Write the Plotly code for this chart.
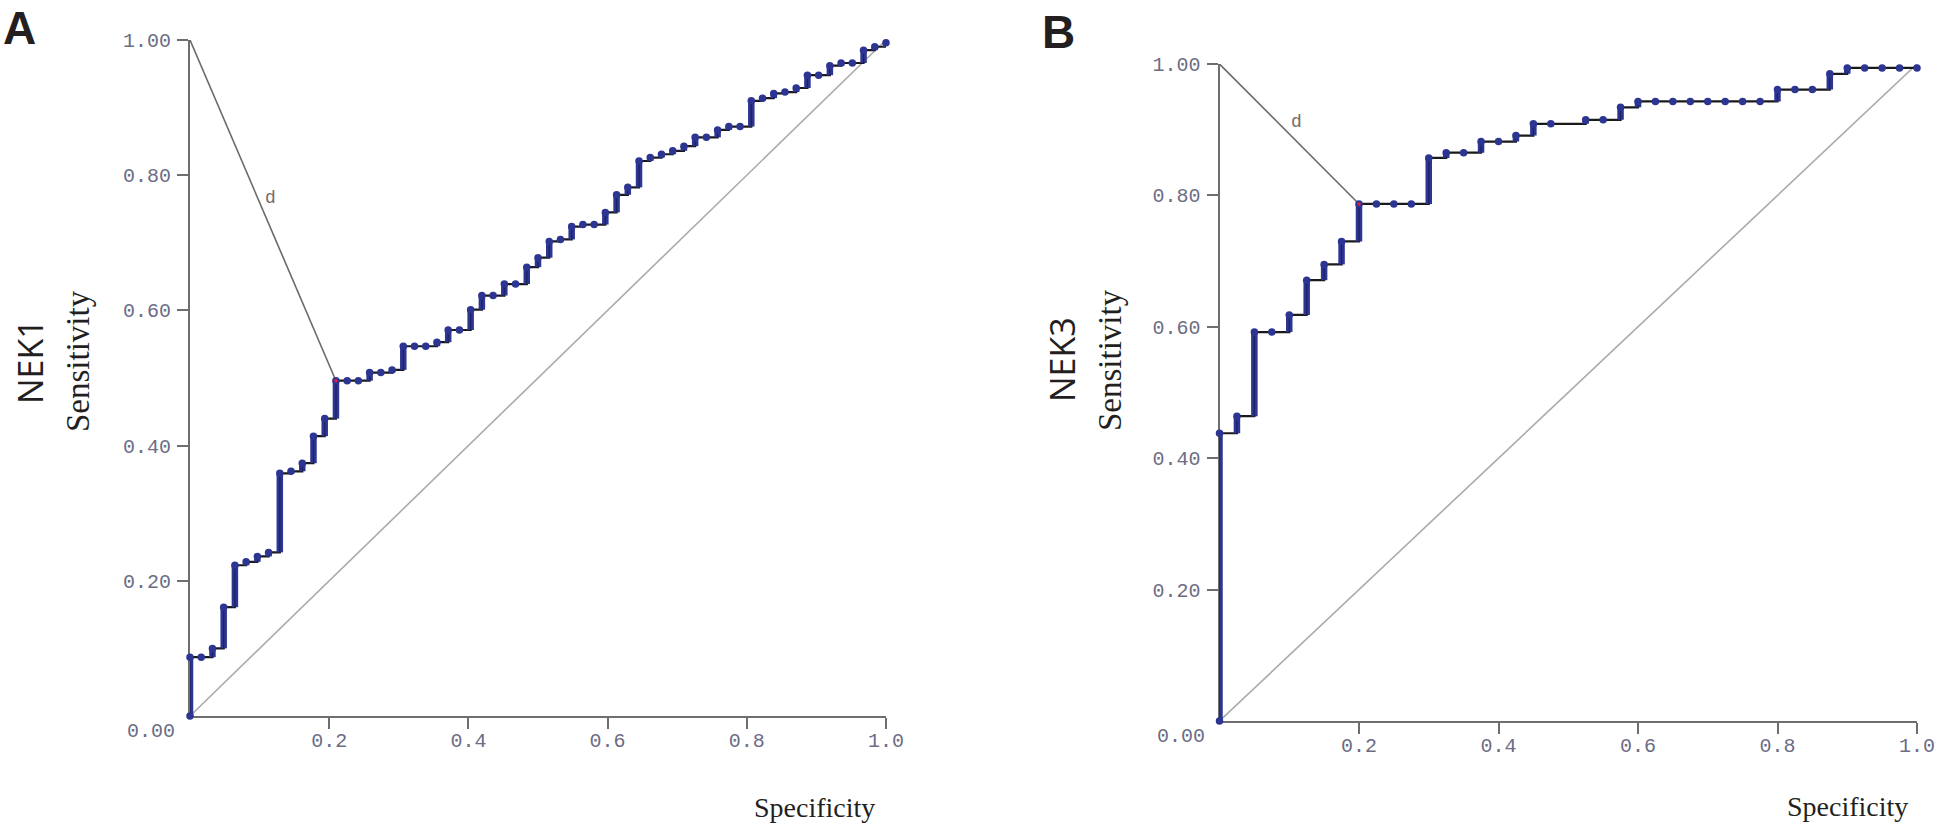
import plotly.graph_objects as go

# ---------------- data ----------------
# Panel A : NEK1  (false-positive counts out of 62 negatives, sensitivity)
A_n_neg = 62
A_fp_count = [0, 0, 1, 2, 3, 4, 5, 6, 7, 8, 9, 10, 11, 12, 13, 14, 15, 16, 17, 18, 19, 20,
              21, 22, 23, 24, 25, 26, 27, 28, 29, 30, 31, 32, 33, 34, 35, 36, 37, 38, 39, 40,
              41, 42, 43, 44, 45, 46, 47, 48, 49, 50, 51, 52, 53, 54, 55, 56, 57, 58, 59, 60,
              61, 62]
A_tpr = [0.0, 0.087, 0.087, 0.100, 0.161, 0.223, 0.228, 0.236, 0.242, 0.359, 0.362, 0.374,
         0.414, 0.440, 0.496, 0.496, 0.496, 0.508, 0.508, 0.512, 0.547, 0.547, 0.547, 0.553,
         0.571, 0.571, 0.601, 0.622, 0.622, 0.639, 0.639, 0.664, 0.678, 0.702, 0.705, 0.724,
         0.727, 0.727, 0.745, 0.771, 0.782, 0.821, 0.826, 0.831, 0.836, 0.843, 0.856, 0.856,
         0.867, 0.872, 0.872, 0.910, 0.914, 0.921, 0.923, 0.929, 0.948, 0.948, 0.962, 0.966,
         0.966, 0.985, 0.990, 0.996]
A_opt_point = 14          # index of the optimal cut-off in the lists above
A_label = "NEK1"

# Panel B : NEK3  (false-positive counts out of 40 negatives, sensitivity)
B_n_neg = 40
B_fp_count = [0, 0, 1, 2, 3, 4, 5, 6, 7, 8, 9, 10, 11, 12, 13, 14, 15, 16, 17, 18, 19,
              21, 22, 23, 24, 25, 26, 27, 28, 29, 30, 31, 32, 33, 34, 35, 36, 37, 38, 39, 40]
B_tpr = [0.0, 0.438, 0.464, 0.592, 0.592, 0.618, 0.671, 0.695, 0.730, 0.787, 0.787, 0.787,
         0.787, 0.857, 0.865, 0.865, 0.882, 0.882, 0.891, 0.909, 0.909, 0.915, 0.915, 0.934,
         0.943, 0.943, 0.943, 0.943, 0.943, 0.943, 0.943, 0.943, 0.961, 0.961, 0.961, 0.985,
         0.994, 0.994, 0.994, 0.994, 0.994]
B_opt_point = 9
B_label = "NEK3"

x_tick_vals = [0.2, 0.4, 0.6, 0.8, 1.0]
x_tick_text = ["0.2", "0.4", "0.6", "0.8", "1.0"]
y_tick_vals = [0.2, 0.4, 0.6, 0.8, 1.0]
y_tick_text = ["0.20", "0.40", "0.60", "0.80", "1.00"]
diag_x = [0, 1]
diag_y = [0, 1]
corner = [0, 1]           # (x, y) of the ideal corner used for distance d

# ---------------- style ----------------
W, H = 1946, 828
NAVY = "#2d3592"
STEP = "#1a1a1a"
AXIS = "#6e6e6e"
TICKFONT = dict(family="Liberation Mono, Courier New, monospace", size=20, color="#6c6c84")
SERIF = "Liberation Serif, Times New Roman, serif"
SANS = "Open Sans, Noto Sans, sans-serif"
BOLD = "Liberation Sans, Arial, sans-serif"

panels = [
    dict(fp=A_fp_count, n=A_n_neg, tpr=A_tpr, opt=A_opt_point, label=A_label, letter="A",
         xs="x", ys="y", px=(190, 886), py=(40, 716),
         letter_pos=(19, 0), name_pos=(30, 362), sens_pos=(78, 361), spec_pos=(814, 807),
         d_pos=(0.115, 0.766)),
    dict(fp=B_fp_count, n=B_n_neg, tpr=B_tpr, opt=B_opt_point, label=B_label, letter="B",
         xs="x2", ys="y2", px=(1219.5, 1917), py=(64, 721),
         letter_pos=(1058, 4), name_pos=(1062, 360), sens_pos=(1110, 360), spec_pos=(1847, 806),
         d_pos=(0.111, 0.912)),
]

fig = go.Figure()
annotations = []


def paper(pxy):
    return pxy[0] / W, 1 - pxy[1] / H


for p in panels:
    fpr = [c / p["n"] for c in p["fp"]]
    tpr = p["tpr"]
    xa, ya = p["xs"], p["ys"]

    # chance diagonal
    fig.add_trace(go.Scatter(x=diag_x, y=diag_y, mode="lines", xaxis=xa, yaxis=ya,
                             line=dict(color="#ababab", width=1.6), hoverinfo="skip",
                             showlegend=False, cliponaxis=False))
    # distance d from the corner to the optimal point
    ox, oy = fpr[p["opt"]], tpr[p["opt"]]
    fig.add_trace(go.Scatter(x=[corner[0], ox], y=[corner[1], oy], mode="lines",
                             xaxis=xa, yaxis=ya, line=dict(color="#6a6a6a", width=1.6),
                             hoverinfo="skip", showlegend=False, cliponaxis=False))
    # staircase
    fig.add_trace(go.Scatter(x=fpr, y=tpr, mode="lines", xaxis=xa, yaxis=ya,
                             line=dict(color=STEP, width=2.2, shape="hv"),
                             showlegend=False, cliponaxis=False))
    # vertical runs (densely packed points) drawn as a thick navy band
    vx, vy = [], []
    for i in range(1, len(fpr)):
        if tpr[i] > tpr[i - 1]:
            vx += [fpr[i], fpr[i], None]
            vy += [tpr[i - 1], tpr[i], None]
    fig.add_trace(go.Scatter(x=vx, y=vy, mode="lines", xaxis=xa, yaxis=ya,
                             line=dict(color=NAVY, width=6.5), hoverinfo="skip",
                             showlegend=False, cliponaxis=False, connectgaps=False))
    fig.add_trace(go.Scatter(x=vx, y=vy, mode="lines", xaxis=xa, yaxis=ya,
                             line=dict(color="#1c2260", width=1.2), hoverinfo="skip",
                             showlegend=False, cliponaxis=False, connectgaps=False))
    # ROC points
    fig.add_trace(go.Scatter(x=fpr, y=tpr, mode="markers", xaxis=xa, yaxis=ya,
                             marker=dict(color=NAVY, size=7.5, symbol="circle"),
                             showlegend=False, cliponaxis=False))
    # optimal point (red)
    fig.add_trace(go.Scatter(x=[ox], y=[oy], mode="markers", xaxis=xa, yaxis=ya,
                             marker=dict(color="#e0203a", size=3.5),
                             showlegend=False, cliponaxis=False))

    # texts
    lx, ly = paper(p["letter_pos"])
    annotations.append(dict(text="<b>" + p["letter"] + "</b>", x=lx, y=ly, xref="paper",
                            yref="paper", showarrow=False, xanchor="center", yanchor="top",
                            font=dict(family=BOLD, size=46, color="#231f20")))
    nx, ny = paper(p["name_pos"])
    annotations.append(dict(text=p["label"], x=nx, y=ny, xref="paper", yref="paper",
                            showarrow=False, textangle=-90, xanchor="center", yanchor="middle",
                            font=dict(family=SANS, size=34, color="#231f20")))
    sx, sy = paper(p["sens_pos"])
    annotations.append(dict(text="Sensitivity", x=sx, y=sy, xref="paper", yref="paper",
                            showarrow=False, textangle=-90, xanchor="center", yanchor="middle",
                            font=dict(family=SERIF, size=33, color="#231f20")))
    spx, spy = paper(p["spec_pos"])
    annotations.append(dict(text="Specificity", x=spx, y=spy, xref="paper", yref="paper",
                            showarrow=False, xanchor="center", yanchor="middle",
                            font=dict(family=SERIF, size=28, color="#231f20")))
    annotations.append(dict(text="d", x=p["d_pos"][0], y=p["d_pos"][1], xref=xa, yref=ya,
                            showarrow=False, xanchor="center", yanchor="middle",
                            font=dict(family=TICKFONT["family"], size=18, color="#7a6a66")))
    annotations.append(dict(text="0.00", x=0, y=0, xref=xa, yref=ya, showarrow=False,
                            xanchor="right", yanchor="middle", xshift=-13, yshift=-15,
                            font=TICKFONT))

    dom_x = [p["px"][0] / W, p["px"][1] / W]
    dom_y = [1 - p["py"][1] / H, 1 - p["py"][0] / H]
    xkey = "xaxis" if xa == "x" else "xaxis2"
    ykey = "yaxis" if ya == "y" else "yaxis2"
    fig.update_layout(**{
        xkey: dict(domain=dom_x, range=[0, 1], anchor=ya, showgrid=False, zeroline=False,
                   showline=True, linecolor=AXIS, linewidth=2, ticks="outside", ticklen=11,
                   tickwidth=2, tickcolor=AXIS, tickvals=x_tick_vals, ticktext=x_tick_text,
                   tickfont=TICKFONT, ticklabelstandoff=-6, fixedrange=True,
                   layer="below traces"),
        ykey: dict(domain=dom_y, range=[0, 1], anchor=xa, showgrid=False, zeroline=False,
                   showline=True, linecolor=AXIS, linewidth=2, ticks="outside", ticklen=11,
                   tickwidth=2, tickcolor=AXIS, tickvals=y_tick_vals, ticktext=y_tick_text,
                   tickfont=TICKFONT, ticklabelstandoff=2, fixedrange=True,
                   layer="below traces"),
    })

fig.update_layout(width=W, height=H, margin=dict(l=0, r=0, t=0, b=0, autoexpand=False),
                  paper_bgcolor="white", plot_bgcolor="white", showlegend=False,
                  annotations=annotations)

fig.write_html("out.html", post_script="document.body.style.margin='0';",
               config={"displayModeBar": False})
